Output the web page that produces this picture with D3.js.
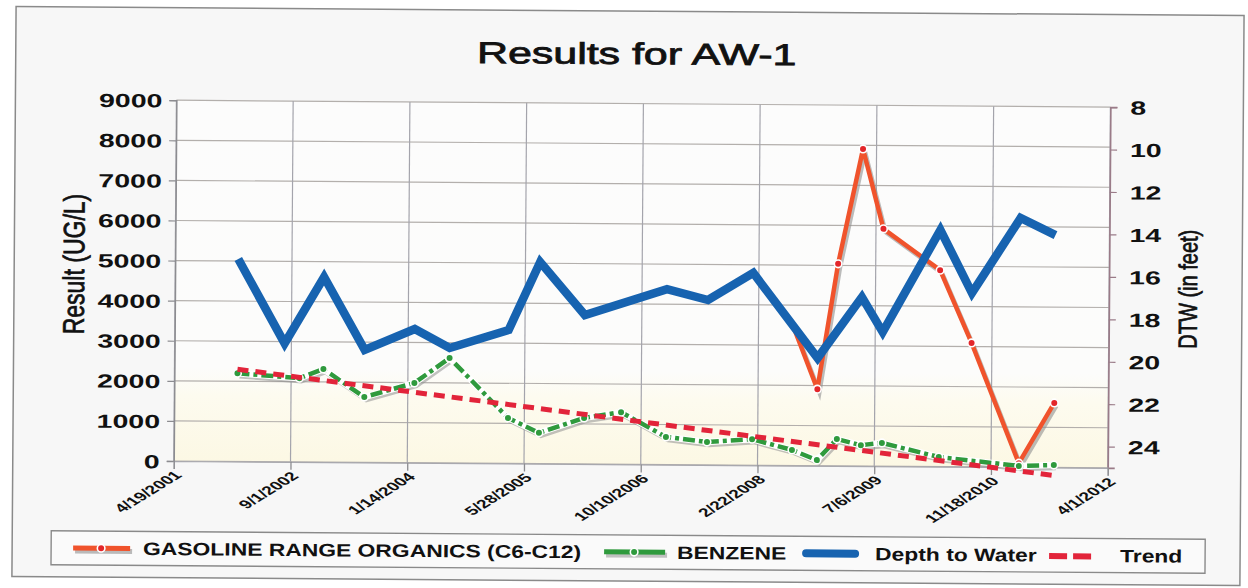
<!DOCTYPE html>
<html><head><meta charset="utf-8">
<script src="https://cdn.jsdelivr.net/npm/d3@7"></script>
<style>
body{margin:0;background:#fff}
svg{display:block}
text{font-family:"Liberation Sans",Arial,Helvetica,sans-serif;fill:#111}
</style>
</head><body>
<svg id="c" width="1248" height="588"></svg>
<script>
// ---------- data ----------
const chartTitle = "Results for AW-1";
const leftAxisTitle = "Result (UG/L)";
const rightAxisTitle = "DTW (in feet)";
const xTickLabels = ["4/19/2001","9/1/2002","1/14/2004","5/28/2005","10/10/2006","2/22/2008","7/6/2009","11/18/2010","4/1/2012"];
const resultTicks = [0,1000,2000,3000,4000,5000,6000,7000,8000,9000];
const dtwTicks = [8,10,12,14,16,18,20,22,24];
const seriesNames = ["GASOLINE RANGE ORGANICS (C6-C12)","BENZENE","Depth to Water","Trend"];

const groDates = ["2008-07-18","2008-11-02","2009-01-26","2009-05-09","2009-08-07","2010-04-08","2010-08-23","2011-03-17","2011-08-14"];
const groValues = [3500,1910,5040,7910,5920,4900,3090,100,1610];

const benzeneDates = ["2002-01-14","2002-10-06","2003-01-17","2003-07-12","2004-02-11","2004-07-10","2005-03-19","2005-07-30","2006-02-08","2006-07-16","2007-01-25","2007-07-20","2008-01-29","2008-07-18","2008-11-02","2009-01-26","2009-05-09","2009-08-07","2010-04-08","2011-03-17","2011-08-14"];
const benzeneValues = [2200,2090,2320,1630,1990,2620,1135,770,1150,1300,690,570,650,390,140,670,520,580,240,30,60];

const dtwDates = ["2002-01-14","2002-08-03","2003-01-17","2003-07-12","2004-02-11","2004-07-10","2005-03-19","2005-07-30","2006-02-08","2007-01-25","2007-07-20","2008-01-29","2008-11-02","2009-05-09","2009-08-07","2010-04-08","2010-08-23","2011-03-17","2011-08-14"];
const dtwValues = [15.46,19.42,16.28,19.70,18.70,19.58,18.71,15.50,17.98,16.73,17.23,15.94,19.93,17.04,18.68,13.85,16.81,13.26,14.05];

const trendDates = ["2002-01-14","2011-08-14"];
const trendValues = [2300,-200];

// ---------- setup ----------
const pTick = d3.timeParse("%m/%d/%Y");
const pDate = d3.timeParse("%Y-%m-%d");
const tickDates = xTickLabels.map(pTick);

const W = 1248, H = 588;
const plot = {l:175, r:1109, t:103.5, b:464.3};
const x = d3.scaleTime().domain([tickDates[0], tickDates[tickDates.length-1]]).range([plot.l, plot.r]);
const yL = d3.scaleLinear().domain([0,9000]).range([plot.b, plot.t]);
const yR = d3.scaleLinear().domain([8,25]).range([plot.t, plot.b]);

const svg = d3.select("#c");
const defs = svg.append("defs");
const grad = defs.append("linearGradient").attr("id","pbg").attr("x1",0).attr("y1",0).attr("x2",0).attr("y2",1);
grad.append("stop").attr("offset","0%").attr("stop-color","#fcfcfc");
grad.append("stop").attr("offset","74%").attr("stop-color","#fcfcfb");
grad.append("stop").attr("offset","82%").attr("stop-color","#fdfbef");
grad.append("stop").attr("offset","100%").attr("stop-color","#fcf8e4");

svg.append("rect").attr("width",W).attr("height",H).attr("fill","#ffffff");
const g = svg.append("g").attr("transform","rotate(0.42,624,294)");

// chart frame
g.append("rect").attr("x",14).attr("y",11).attr("width",1228).attr("height",570)
  .attr("fill","#f7f7f7").attr("stroke","#8a8a8a").attr("stroke-width",1.5);

// plot background
g.append("rect").attr("x",plot.l).attr("y",plot.t).attr("width",plot.r-plot.l).attr("height",plot.b-plot.t)
  .attr("fill","url(#pbg)");

// gridlines
g.append("g").selectAll("line").data(resultTicks).join("line")
  .attr("x1",plot.l).attr("x2",plot.r).attr("y1",d=>yL(d)).attr("y2",d=>yL(d))
  .attr("stroke","#b3afac").attr("stroke-width",1.2);
g.append("g").selectAll("line").data(tickDates).join("line")
  .attr("x1",d=>x(d)).attr("x2",d=>x(d)).attr("y1",plot.t).attr("y2",plot.b)
  .attr("stroke","#a4a4ac").attr("stroke-width",1.2);

function stretchText(sel, sx, dx, dy){
  sel.attr("x",0).attr("y",0).attr("transform",`translate(${dx},${dy}) scale(${sx},1)`);
}

// left axis
const axL = g.append("g").attr("transform",`translate(${plot.l},0)`)
  .call(d3.axisLeft(yL).tickValues(resultTicks).tickSize(7).tickFormat(d3.format("d")));
axL.select(".domain").attr("stroke","#8c8c90").attr("stroke-width",1.4);
axL.selectAll(".tick line").attr("stroke","#8c8c90").attr("stroke-width",1.2);
axL.selectAll(".tick text").attr("font-size",19).attr("font-weight","bold").attr("fill","#111")
  .attr("text-anchor","end").attr("dy","0.36em")
  .each(function(){ stretchText(d3.select(this),1.5,-14,0); });

// right axis
const axR = g.append("g").attr("transform",`translate(${plot.r},0)`)
  .call(d3.axisRight(yR).tickValues(dtwTicks).tickSize(7));
axR.select(".domain").attr("stroke","#9a7b88").attr("stroke-width",1.6);
axR.selectAll(".tick line").attr("stroke","#9a7b88").attr("stroke-width",1.2);
axR.selectAll(".tick text").attr("font-size",19).attr("font-weight","bold").attr("fill","#111")
  .attr("text-anchor","start").attr("dy","0.36em")
  .each(function(){ stretchText(d3.select(this),1.5,20,0); });

// bottom axis
const axB = g.append("g").attr("transform",`translate(0,${plot.b})`)
  .call(d3.axisBottom(x).tickValues(tickDates).tickSize(8).tickFormat((d,i)=>xTickLabels[i]));
axB.select(".domain").attr("stroke","#a8a8ae").attr("stroke-width",1.2);
axB.selectAll(".tick line").attr("stroke","#8c8c90").attr("stroke-width",1.3);
axB.selectAll(".tick text").attr("font-size",12).attr("font-weight","bold").attr("fill","#222")
  .attr("text-anchor","end").attr("x",0).attr("y",0).attr("dy","0.35em")
  .attr("transform","translate(4,12) scale(1.6,1) rotate(-45)");

// titles
g.append("text").attr("x",0).attr("y",0).attr("text-anchor","middle").attr("font-size",30)
  .attr("stroke","#111").attr("stroke-width",0.8)
  .attr("transform","translate(635,64) scale(1.43,1)").text(chartTitle);
g.append("text").attr("x",0).attr("y",0).attr("text-anchor","middle").attr("font-size",23)
  .attr("stroke","#111").attr("stroke-width",0.6)
  .attr("transform","translate(84,268) scale(1.3,1) rotate(-90)").text(leftAxisTitle);
g.append("text").attr("x",0).attr("y",0).attr("text-anchor","middle").attr("font-size",20)
  .attr("stroke","#111").attr("stroke-width",0.6)
  .attr("transform","translate(1197,285) scale(1.3,1) rotate(-90)").text(rightAxisTitle);

// ---------- series ----------
const groPts = groDates.map((d,i)=>({d:pDate(d), v:groValues[i]}));
const benPts = benzeneDates.map((d,i)=>({d:pDate(d), v:benzeneValues[i]}));
const dtwPts = dtwDates.map((d,i)=>({d:pDate(d), v:dtwValues[i]}));
const trPts = trendDates.map((d,i)=>({d:pDate(d), v:trendValues[i]}));

const lineL = d3.line().x(p=>x(p.d)).y(p=>yL(p.v));
const lineR = d3.line().x(p=>x(p.d)).y(p=>yR(p.v));

const colors = {gro:"#f0532c", groM:"#e3262a", ben:"#2f9a3d", dtw:"#1763b0", trend:"#e2243a", shadow:"#8f8f8f"};

// GRO
g.append("path").datum(groPts).attr("d",lineL).attr("fill","none").attr("stroke",colors.shadow)
  .attr("stroke-opacity",0.6).attr("stroke-width",4.5).attr("transform","translate(2,3)");
g.append("path").datum(groPts).attr("d",lineL).attr("fill","none").attr("stroke",colors.gro)
  .attr("stroke-width",4.5).attr("stroke-linejoin","round");
g.append("g").selectAll("circle").data(groPts).join("circle")
  .attr("cx",p=>x(p.d)).attr("cy",p=>yL(p.v)).attr("r",3.8)
  .attr("fill",colors.groM).attr("stroke","#fff").attr("stroke-width",1.6);

// Benzene
g.append("path").datum(benPts).attr("d",lineL).attr("fill","none").attr("stroke",colors.shadow)
  .attr("stroke-opacity",0.55).attr("stroke-width",4.5).attr("transform","translate(2,3)");
g.append("path").datum(benPts).attr("d",lineL).attr("fill","none").attr("stroke","#ffffff")
  .attr("stroke-width",6.5);
g.append("path").datum(benPts).attr("d",lineL).attr("fill","none").attr("stroke",colors.ben)
  .attr("stroke-width",4.5).attr("stroke-dasharray","12,4,4,4");
g.append("g").selectAll("circle").data(benPts).join("circle")
  .attr("cx",p=>x(p.d)).attr("cy",p=>yL(p.v)).attr("r",3.8)
  .attr("fill",colors.ben).attr("stroke","#fff").attr("stroke-width",1.6);

// Trend
g.append("path").datum(trPts).attr("d",lineL).attr("fill","none").attr("stroke",colors.trend)
  .attr("stroke-width",5).attr("stroke-dasharray","11,7");

// Depth to water
g.append("path").datum(dtwPts).attr("d",lineR).attr("fill","none").attr("stroke",colors.dtw)
  .attr("stroke-width",8.5).attr("stroke-linejoin","miter").attr("stroke-miterlimit",3);

// ---------- legend ----------
const lg = g.append("g");
lg.append("rect").attr("x",53).attr("y",535).attr("width",1154).attr("height",34)
  .attr("fill","#fafafa").attr("stroke","#8a8a8a").attr("stroke-width",1.4);
const ly = 552, lb = 558.5;
// GRO symbol
lg.append("line").attr("x1",77).attr("x2",134).attr("y1",ly+3).attr("y2",ly+3).attr("stroke",colors.shadow).attr("stroke-opacity",0.6).attr("stroke-width",5);
lg.append("line").attr("x1",75).attr("x2",132).attr("y1",ly).attr("y2",ly).attr("stroke",colors.gro).attr("stroke-width",5);
lg.append("circle").attr("cx",103).attr("cy",ly).attr("r",3.8).attr("fill",colors.groM).attr("stroke","#fff").attr("stroke-width",1.6);
// Benzene symbol
lg.append("line").attr("x1",608).attr("x2",669).attr("y1",ly+3).attr("y2",ly+3).attr("stroke",colors.shadow).attr("stroke-opacity",0.55).attr("stroke-width",5);
lg.append("line").attr("x1",606).attr("x2",667).attr("y1",ly).attr("y2",ly).attr("stroke",colors.ben).attr("stroke-width",5);
lg.append("circle").attr("cx",636).attr("cy",ly).attr("r",3.8).attr("fill",colors.ben).attr("stroke","#fff").attr("stroke-width",1.6);
// DTW symbol
lg.append("line").attr("x1",808).attr("x2",857).attr("y1",ly).attr("y2",ly).attr("stroke",colors.dtw).attr("stroke-width",8).attr("stroke-linecap","round");
// Trend symbol
lg.append("line").attr("x1",1051).attr("x2",1096).attr("y1",ly+1).attr("y2",ly+1).attr("stroke",colors.trend).attr("stroke-width",6).attr("stroke-dasharray","18,6");

const legendX = [145,679,877,1122];
seriesNames.forEach((n,i)=>{
  lg.append("text").attr("x",0).attr("y",0).attr("font-size",18).attr("font-weight","bold")
    .attr("transform",`translate(${legendX[i]},${lb}) scale(1.27,1)`).text(n);
});
</script>
</body></html>
